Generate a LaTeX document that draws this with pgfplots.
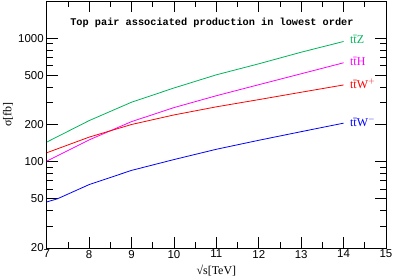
\documentclass[border=0pt]{standalone}
\usepackage{fontspec}
\setmainfont{Liberation Serif}
\setsansfont{Liberation Sans}
\setmonofont{Liberation Mono}
\usepackage{pgfplots}
\pgfplotsset{compat=1.18}
\definecolor{cZ}{RGB}{0,180,90}
\definecolor{cH}{RGB}{255,0,255}
\definecolor{cWp}{RGB}{255,0,0}
\definecolor{cWm}{RGB}{0,0,255}
\begin{document}
\begin{tikzpicture}
\path[use as bounding box] (-46.7bp,-28bp) rectangle (346.3bp,248bp);
\begin{axis}[
  at={(0,0)}, anchor=south west,
  scale only axis,
  width=339.3bp, height=247bp,
  xmin=7, xmax=15, ymin=20, ymax=2000,
  ymode=log,
  axis line style={line width=0.9pt},
  xtick={7,...,15},
  minor xtick={7.5,8.5,...,14.5},
  ytick={20,50,100,200,500,1000},
  yticklabels={20,50,100,200,500,1000},
  minor ytick={30,40,60,70,80,90,300,400,600,700,800,900},
  tick align=inside,
  major tick length=11bp,
  minor tick length=6bp,
  tick style={black, line width=0.8pt},
  /pgf/number format/assume math mode=true,
  ticklabel style={font=\fontsize{11.5}{13}\selectfont\sffamily},
  xticklabel style={yshift=1.5bp},
  yticklabel style={xshift=0.5bp},
  xlabel={√s[TeV]},
  ylabel={σ[fb]},
  label style={font=\fontsize{12}{14}\selectfont, inner sep=1pt},
  xlabel style={at={(axis description cs:0.5,0)}, anchor=north, yshift=-16bp},
  ylabel style={at={(axis description cs:0,0.54)}, anchor=south, yshift=32.5bp},
  clip=false,
]
\addplot[cZ, line width=0.8pt] coordinates {(7,144) (8,215) (9,303) (10,395) (11,505) (12,620) (13,770) (14,940)};
\addplot[cH, line width=0.8pt] coordinates {(7,101) (8,150) (9,211) (10,274) (11,342) (12,420) (13,515) (14,632)};
\addplot[cWp, line width=0.8pt] coordinates {(7,118) (8,158) (9,200) (10,239) (11,278) (12,318) (13,365) (14,418)};
\addplot[cWm, line width=0.8pt] coordinates {(7,47.2) (7.25,50) (8,65.2) (9,85) (10,104) (11,126) (12,149) (13,175) (14,205)};
\node[anchor=west, text=cZ, font=\fontsize{12}{14}\selectfont, inner sep=0pt] at (axis cs:14.15,969) {t\={t}Z};
\node[anchor=west, text=cH, font=\fontsize{12}{14}\selectfont, inner sep=0pt] at (axis cs:14.15,650) {t\={t}H};
\node[anchor=west, text=cWp, font=\fontsize{12}{14}\selectfont, inner sep=0pt] at (axis cs:14.15,428) {t\={t}W$^{+}$};
\node[anchor=west, text=cWm, font=\fontsize{12}{14}\selectfont, inner sep=0pt] at (axis cs:14.15,211) {t\={t}W$^{-}$};
\node[anchor=west, font=\fontsize{10.3}{12}\selectfont\ttfamily\bfseries, inner sep=0pt] at (axis description cs:0.069,0.91) {Top pair associated production in lowest order};
\end{axis}
\end{tikzpicture}
\end{document}
